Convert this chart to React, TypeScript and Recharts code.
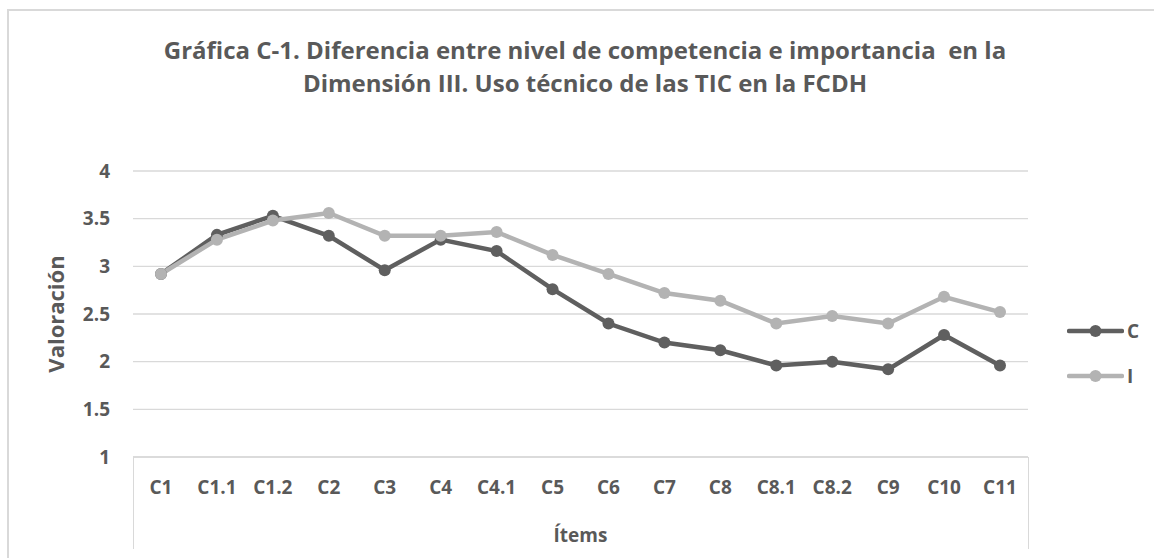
import React from 'react';
import { LineChart, Line, XAxis, YAxis, CartesianGrid, Label } from 'recharts';

const categories = ['C1', 'C1.1', 'C1.2', 'C2', 'C3', 'C4', 'C4.1', 'C5', 'C6', 'C7', 'C8', 'C8.1', 'C8.2', 'C9', 'C10', 'C11'];
const competencia = [2.92, 3.33, 3.53, 3.32, 2.96, 3.28, 3.16, 2.76, 2.4, 2.2, 2.12, 1.96, 2.0, 1.92, 2.28, 1.96];
const importancia = [2.92, 3.28, 3.48, 3.56, 3.32, 3.32, 3.36, 3.12, 2.92, 2.72, 2.64, 2.4, 2.48, 2.4, 2.68, 2.52];
const yTicks = [1, 1.5, 2, 2.5, 3, 3.5, 4];

const data = categories.map((name, i) => ({ name, C: competencia[i], I: importancia[i] }));

const FONT = '"Open Sans", "Liberation Sans", sans-serif';
const TEXT = '#595959';
const GRID = '#d9d9d9';
const DARK = '#5f5f5f';
const LIGHT = '#b3b3b3';

const series = [
  { key: 'C', color: DARK },
  { key: 'I', color: LIGHT },
];

const YLabel = (props: any) => {
  const { viewBox } = props;
  const cx = viewBox.x + 35;
  const cy = viewBox.y + viewBox.height / 2;
  return (
    <text x={cx} y={cy} transform={`rotate(-90 ${cx} ${cy})`} textAnchor="middle" dominantBaseline="central"
      fill={TEXT} fontSize={22} fontWeight={700} fontFamily={FONT}>
      Valoración
    </text>
  );
};

export default function App() {
  return (
    <div style={{ position: 'absolute', left: 0, top: 0, width: 1154, height: 558, overflow: 'hidden', background: '#fff' }}>
      <div style={{ position: 'absolute', left: 7, top: 9, width: 1160, height: 560, border: `2px solid ${GRID}` }} />
      <div style={{ position: 'absolute', left: 133, top: 457, width: 894, height: 92, borderLeft: `1.5px solid ${GRID}`, borderRight: `1.5px solid ${GRID}` }} />
      <div style={{
        position: 'absolute', left: 0, top: 33, width: 1170, textAlign: 'center', fontFamily: FONT,
        fontWeight: 700, fontSize: 24, lineHeight: '33px', color: TEXT,
      }}>
        Gráfica C-1. Diferencia entre nivel de competencia e importancia&nbsp; en la<br />
        Dimensión III. Uso técnico de las TIC en la FCDH
      </div>
      <div style={{ position: 'absolute', left: 0, top: 0 }}>
        <LineChart width={1154} height={558} data={data} margin={{ top: 171, right: 126, bottom: 8, left: 20 }}>
          <CartesianGrid vertical={false} stroke={GRID} strokeWidth={1.3} />
          <XAxis
            dataKey="name"
            height={93}
            padding={{ left: 28, right: 28 }}
            axisLine={{ stroke: GRID, strokeWidth: 1.3 }}
            tickLine={false}
            tickMargin={18}
            interval={0}
            tick={{ fill: TEXT, fontSize: 19, fontWeight: 700, fontFamily: FONT }}
          >
            <Label value="Ítems" position="insideBottom" offset={8} fill={TEXT} fontSize={19} fontWeight={700} fontFamily={FONT} />
          </XAxis>
          <YAxis
            width={113}
            domain={[1, 4]}
            ticks={yTicks}
            axisLine={false}
            tickLine={false}
            tickMargin={17}
            tick={{ fill: TEXT, fontSize: 19, fontWeight: 700, fontFamily: FONT }}
          >
            <Label content={<YLabel />} />
          </YAxis>
          {series.map((s) => (
            <Line key={s.key} dataKey={s.key} name={s.key} stroke={s.color} strokeWidth={4.5}
              dot={{ r: 6, fill: s.color, stroke: s.color, strokeWidth: 0 }} activeDot={false} isAnimationActive={false} />
          ))}
        </LineChart>
      </div>
      <div style={{ position: 'absolute', left: 1067, top: 308, fontFamily: FONT }}>
        {series.map((s) => (
          <div key={s.key} style={{ display: 'flex', alignItems: 'center', height: 45 }}>
            <svg width={57} height={14}>
              <line x1={2} y1={7} x2={55} y2={7} stroke={s.color} strokeWidth={4.5} strokeLinecap="round" />
              <circle cx={28.5} cy={7} r={6} fill={s.color} />
            </svg>
            <span style={{ color: TEXT, fontSize: 19, fontWeight: 700, marginLeft: 3 }}>{s.key}</span>
          </div>
        ))}
      </div>
    </div>
  );
}
